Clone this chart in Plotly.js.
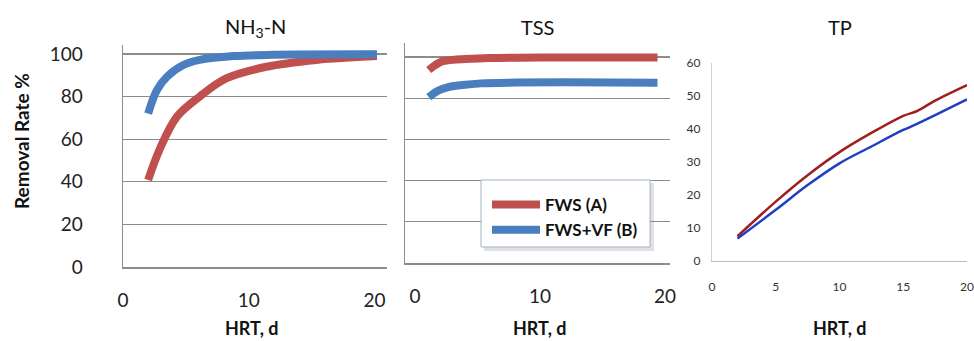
<!DOCTYPE html>
<html>
<head>
<meta charset="utf-8">
<script src="https://cdn.plot.ly/plotly-3.0.1.min.js"></script>
<style>html,body{margin:0;padding:0;background:#fff;}#chart{width:974px;height:341px;}</style>
</head>
<body>
<div id="chart"></div>
<script>
// ---- data ----
const seriesNames = ["FWS (A)", "FWS+VF (B)"];

const nh3_hrt_A = [2.0, 2.9, 4.3, 6.1, 8.25, 11.4, 15.4, 20.2];
const nh3_rate_A = [40.8, 55, 70.6, 80, 88.6, 94, 97.2, 99];
const nh3_hrt_B = [2.0, 2.7, 3.5, 4.8, 6.1, 8.8, 12, 20.2];
const nh3_rate_B = [72, 83, 89.3, 94.8, 97.2, 99, 99.6, 99.8];

const tss_hrt_A = [1.1, 1.6, 2.1, 3, 4, 6, 10, 19.4];
const tss_rate_A = [93.7, 96, 97.7, 98.6, 99, 99.5, 99.8, 99.8];
const tss_hrt_B = [1.1, 1.8, 2.6, 3.8, 5.3, 8, 12, 19.4];
const tss_rate_B = [80.5, 83.5, 85.3, 86.4, 87.2, 87.6, 87.8, 87.5];

const tp_hrt = [2, 5, 7.5, 10, 12.5, 15, 16, 17.5, 20];
const tp_rate_A = [7.5, 18, 26, 33, 38.8, 44, 45.3, 48.6, 53.3];
const tp_rate_B = [6.8, 15.5, 23, 29.6, 34.7, 39.7, 41.4, 44.2, 49];

const panelTitles = ["NH<sub>3</sub>-N", "TSS", "TP"];
const xTitle = "HRT, d";
const yTitle = "Removal Rate %";

// ---- styling ----
const W = 974, H = 341;
const px = v => v / W;
const py = v => 1 - v / H;
const RED = "#C0504D", BLUE = "#4A7EBF";
const TPRED = "#A01E1E", TPBLUE = "#1E3FC4";
const FONT = "Lato, 'Open Sans', sans-serif";

const traces = [
  {x: nh3_hrt_A, y: nh3_rate_A, name: seriesNames[0], xaxis: "x", yaxis: "y", mode: "lines",
   line: {color: RED, width: 8, shape: "spline"}, showlegend: true},
  {x: nh3_hrt_B, y: nh3_rate_B, name: seriesNames[1], xaxis: "x", yaxis: "y", mode: "lines",
   line: {color: BLUE, width: 8, shape: "spline"}, showlegend: true},
  {x: tss_hrt_A, y: tss_rate_A, name: seriesNames[0], xaxis: "x2", yaxis: "y2", mode: "lines",
   line: {color: RED, width: 8, shape: "spline"}, showlegend: false},
  {x: tss_hrt_B, y: tss_rate_B, name: seriesNames[1], xaxis: "x2", yaxis: "y2", mode: "lines",
   line: {color: BLUE, width: 8, shape: "spline"}, showlegend: false},
  {x: tp_hrt, y: tp_rate_A, name: seriesNames[0], xaxis: "x3", yaxis: "y3", mode: "lines",
   line: {color: TPRED, width: 2.5, shape: "spline"}, showlegend: false},
  {x: tp_hrt, y: tp_rate_B, name: seriesNames[1], xaxis: "x3", yaxis: "y3", mode: "lines",
   line: {color: TPBLUE, width: 2.5, shape: "spline"}, showlegend: false}
];

const bigAxisX = {
  showgrid: false, zeroline: false, showline: true, linecolor: "#8c8c8c", linewidth: 1.5,
  ticks: "", tickfont: {family: FONT, size: 19, color: "#222"}, tickvals: [0, 10, 20],
  ticklabelstandoff: 16
};
const bigAxisY = {
  showgrid: true, gridcolor: "#8c8c8c", gridwidth: 1.2, zeroline: false, showline: true,
  linecolor: "#8c8c8c", linewidth: 1.5, ticks: "", tickvals: [0, 20, 40, 60, 80, 100],
  tickfont: {family: FONT, size: 19, color: "#222"}
};

function ann(text, x, y, size, bold, angle) {
  return {text: text, x: px(x), y: py(y), xref: "paper", yref: "paper", showarrow: false,
    xanchor: "center", yanchor: "middle", textangle: angle || 0,
    font: {family: FONT, size: size, color: "#111", weight: bold ? "bold" : "normal"}};
}

const layout = {
  width: W, height: H,
  margin: {l: 0, r: 0, t: 0, b: 0},
  paper_bgcolor: "#fff", plot_bgcolor: "rgba(0,0,0,0)",
  font: {family: FONT, color: "#222"},
  xaxis: Object.assign({}, bigAxisX, {domain: [px(123), px(387)], range: [0, 21], anchor: "y"}),
  yaxis: Object.assign({}, bigAxisY, {domain: [py(267), py(45)], range: [0, 104.2], anchor: "x",
    ticklabelstandoff: 35}),
  xaxis2: Object.assign({}, bigAxisX, {domain: [px(405), px(670)], range: [-0.8, 20.4], anchor: "y2"}),
  yaxis2: Object.assign({}, bigAxisY, {domain: [py(263), py(43)], range: [0, 106.8], anchor: "x2",
    showticklabels: false}),
  xaxis3: {domain: [px(712), px(967)], range: [0, 20], anchor: "y3", showgrid: false, zeroline: false,
    showline: true, linecolor: "#bdbdbd", linewidth: 1.2, ticks: "", tickvals: [0, 5, 10, 15, 20],
    tickfont: {family: FONT, size: 12, color: "#333"}, ticklabelstandoff: 14},
  yaxis3: {domain: [py(261), py(63)], range: [0, 60], anchor: "x3", showgrid: false, zeroline: false,
    showline: true, linecolor: "#d0d0d0", linewidth: 1.2, ticks: "", tickvals: [0, 10, 20, 30, 40, 50, 60],
    tickfont: {family: FONT, size: 12, color: "#333"}, ticklabelstandoff: 8},
  showlegend: true,
  legend: {
    x: px(487), y: py(187), xanchor: "left", yanchor: "top",
    bgcolor: "rgba(0,0,0,0)", borderwidth: 0,
    font: {family: FONT, size: 17, color: "#111", weight: "bold"},
    itemwidth: 48, tracegroupgap: 0
  },
  shapes: [
    {type: "rect", xref: "paper", yref: "paper", x0: px(484), x1: px(654), y0: py(251), y1: py(183),
     fillcolor: "rgba(120,120,120,0.22)", line: {width: 0}, layer: "above"},
    {type: "rect", xref: "paper", yref: "paper", x0: px(481), x1: px(650), y0: py(247), y1: py(180),
     fillcolor: "#ffffff", line: {color: "#9db3c8", width: 1}, layer: "above"}
  ],
  annotations: [
    ann(panelTitles[0], 255, 27, 20, false),
    ann(panelTitles[1], 537, 27, 20, false),
    ann(panelTitles[2], 840, 27, 20, false),
    ann(yTitle, 21, 141, 19, true, -90),
    ann(xTitle, 252, 328, 18, true),
    ann(xTitle, 540, 328, 18, true),
    ann(xTitle, 840, 328, 18, true)
  ]
};

Plotly.newPlot("chart", traces, layout, {displayModeBar: false, staticPlot: true});
</script>
</body>
</html>
